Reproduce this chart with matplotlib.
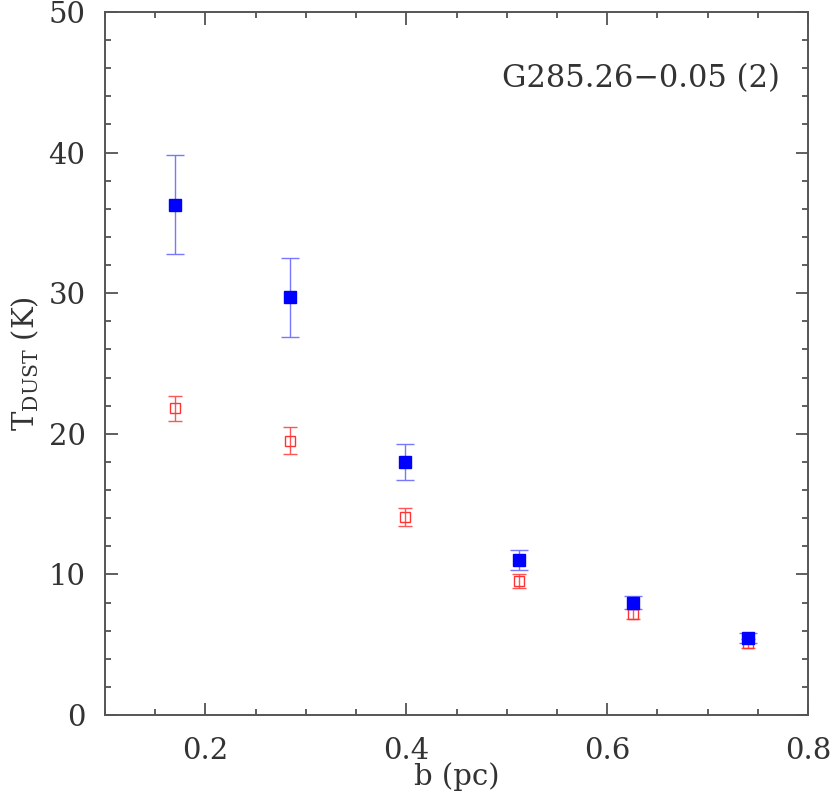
import numpy as np
import matplotlib
matplotlib.use("Agg")
import matplotlib.pyplot as plt
from matplotlib.ticker import MultipleLocator

# impact parameter b (pc)
b_pc = [0.170, 0.284, 0.399, 0.512, 0.626, 0.740]

# filled blue squares
t_blue = [36.3, 29.7, 18.0, 11.0, 8.0, 5.5]
t_blue_err = [3.5, 2.8, 1.3, 0.7, 0.45, 0.35]

# open red squares
t_red = [21.8, 19.5, 14.1, 9.5, 7.2, 5.1]
t_red_err = [0.9, 0.95, 0.65, 0.5, 0.35, 0.3]

label = "G285.26\u22120.05 (2)"

plt.rcParams['font.family'] = ['DejaVu Serif']
plt.rcParams['mathtext.fontset'] = 'dejavuserif'
txt = '#333333'

fig = plt.figure(figsize=(8.30, 7.98), dpi=100)
ax = fig.add_axes([105/830, 1 - 715/798, (808 - 105)/830, (715 - 12)/798])

ax.errorbar(b_pc, t_red, yerr=t_red_err, fmt='s', ms=7, mfc='none', mec='#ff3333',
            mew=1.0, ecolor='#ff5555', elinewidth=1.0, capsize=4.8, capthick=1.0, zorder=3)
ax.errorbar(b_pc, t_blue, yerr=t_blue_err, fmt='s', ms=8.4, mfc='#0000ff', mec='#0000ff',
            ecolor='#7777ff', elinewidth=1.0, capsize=6.2, capthick=1.0, zorder=4)

ax.set_xlim(0.1, 0.8)
ax.set_ylim(0, 50)
ax.xaxis.set_major_locator(MultipleLocator(0.2))
ax.xaxis.set_minor_locator(MultipleLocator(0.05))
ax.yaxis.set_major_locator(MultipleLocator(10))
ax.yaxis.set_minor_locator(MultipleLocator(2))
ax.tick_params(which='both', direction='in', top=True, right=True, colors='#444444',
               labelcolor=txt, labelsize=21, width=1.2)
ax.tick_params(which='major', length=9)
ax.tick_params(which='minor', length=4.5)
ax.tick_params(axis='x', pad=16)
ax.tick_params(axis='y', pad=14)
for s in ax.spines.values():
    s.set_color('#555555')
    s.set_linewidth(1.4)

ax.set_xlabel('b (pc)', fontsize=21, color=txt, labelpad=-2)
ax.set_ylabel(r'T$_{\rm DUST}$ (K)', fontsize=21, color=txt, labelpad=5)

ax.text(0.96, 0.905, label, transform=ax.transAxes, ha='right', va='center',
        fontsize=22, color=txt)

fig.savefig('out.png', dpi=100)
